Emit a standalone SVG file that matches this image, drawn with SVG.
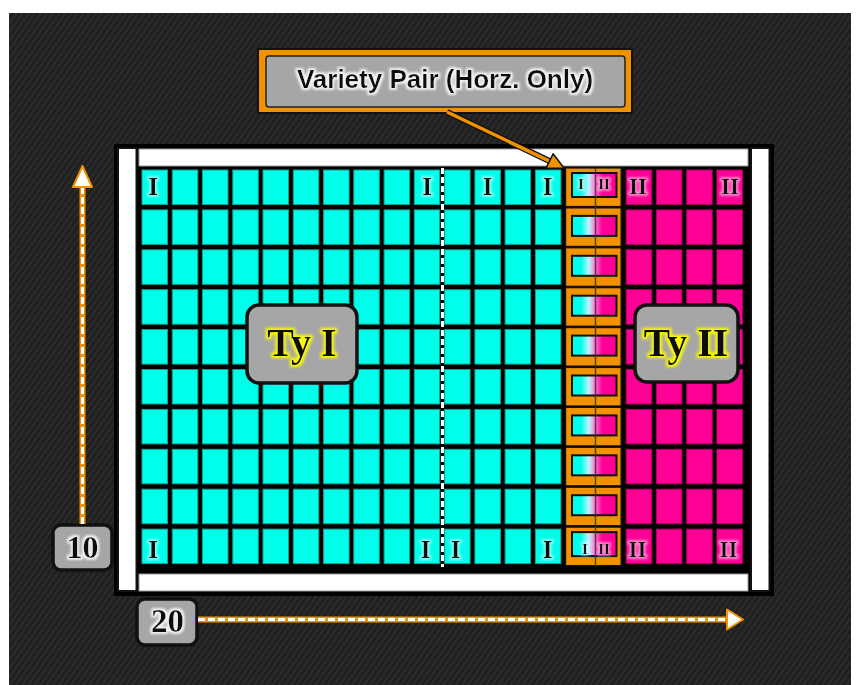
<svg xmlns="http://www.w3.org/2000/svg" width="859" height="685" viewBox="0 0 859 685">
<style>
.c{fill:#00ffea;stroke:#13a08e;stroke-width:1}
.m{fill:#ff0096;stroke:#b0005e;stroke-width:1}
.lab{font-family:"Liberation Serif","Times New Roman",serif;font-weight:bold;fill:#111;text-anchor:middle}
.box{fill:#a6a6a6;stroke:#111;stroke-width:3.5}
.wh{fill:#fff;stroke:#111;stroke-width:2}
.dash-o{stroke:#f39200;stroke-width:6;fill:none}
.dash-w{stroke:#fff;stroke-width:3;stroke-dasharray:7 3;fill:none}
</style>
<defs>
<pattern id="stripes" patternUnits="userSpaceOnUse" width="5" height="5" patternTransform="rotate(35)">
<rect width="5" height="5" fill="#1f1f1f"/>
<rect width="2.2" height="5" fill="#2b2b2b"/>
</pattern>
<linearGradient id="pg" x1="0" y1="0" x2="1" y2="0">
<stop offset="0" stop-color="#00ffea"/>
<stop offset="0.2" stop-color="#00ffea"/>
<stop offset="0.38" stop-color="#bff4ff"/>
<stop offset="0.5" stop-color="#ff80d8"/>
<stop offset="0.68" stop-color="#ff0096"/>
<stop offset="1" stop-color="#ff0096"/>
</linearGradient>
<filter id="gw" x="-40%" y="-40%" width="180%" height="180%">
<feMorphology in="SourceAlpha" operator="dilate" radius="1.5" result="d"/>
<feGaussianBlur in="d" stdDeviation="1.2" result="b"/>
<feFlood flood-color="#ffffff" flood-opacity="0.5"/>
<feComposite in2="b" operator="in" result="g"/>
<feMerge><feMergeNode in="g"/><feMergeNode in="SourceGraphic"/></feMerge>
</filter>
<filter id="gw2" x="-40%" y="-40%" width="180%" height="180%">
<feMorphology in="SourceAlpha" operator="dilate" radius="1.5" result="d"/>
<feGaussianBlur in="d" stdDeviation="1.2" result="b"/>
<feFlood flood-color="#ffffff" flood-opacity="0.85"/>
<feComposite in2="b" operator="in" result="g"/>
<feMerge><feMergeNode in="g"/><feMergeNode in="SourceGraphic"/></feMerge>
</filter>
<filter id="gy" x="-30%" y="-30%" width="160%" height="160%">
<feMorphology in="SourceAlpha" operator="dilate" radius="2" result="d"/>
<feGaussianBlur in="d" stdDeviation="1.8" result="b"/>
<feFlood flood-color="#ffff00" flood-opacity="1"/>
<feComposite in2="b" operator="in" result="g"/>
<feMerge><feMergeNode in="g"/><feMergeNode in="SourceGraphic"/></feMerge>
</filter>
<g id="cellrow">
<rect class="c" x="142" y="0" width="25.5" height="34.5"/>
<rect class="c" x="172.3" y="0" width="25.5" height="34.5"/>
<rect class="c" x="202.5" y="0" width="25.5" height="34.5"/>
<rect class="c" x="232.8" y="0" width="25.5" height="34.5"/>
<rect class="c" x="263" y="0" width="25.5" height="34.5"/>
<rect class="c" x="293.3" y="0" width="25.5" height="34.5"/>
<rect class="c" x="323.6" y="0" width="25.5" height="34.5"/>
<rect class="c" x="353.8" y="0" width="25.5" height="34.5"/>
<rect class="c" x="384.1" y="0" width="25.5" height="34.5"/>
<rect class="c" x="414.3" y="0" width="25.5" height="34.5"/>
<rect class="c" x="444.6" y="0" width="25.5" height="34.5"/>
<rect class="c" x="474.9" y="0" width="25.5" height="34.5"/>
<rect class="c" x="505.1" y="0" width="25.5" height="34.5"/>
<rect class="c" x="535.4" y="0" width="25.5" height="34.5"/>
<rect class="m" x="626.2" y="0" width="25.5" height="34.5"/>
<rect class="m" x="656.4" y="0" width="25.5" height="34.5"/>
<rect class="m" x="686.7" y="0" width="25.5" height="34.5"/>
<rect class="m" x="716.9" y="0" width="25.5" height="34.5"/>
</g>
<g id="pairmid">
<rect x="565.6" y="-2" width="55.5" height="38.5" fill="#f39200" stroke="#111" stroke-width="1.2"/>
<rect x="572" y="6" width="44.5" height="20" fill="url(#pg)" stroke="#111" stroke-width="2"/>
</g>
<g id="pairlab">
<rect x="565.6" y="-2" width="55.5" height="38.5" fill="#f39200" stroke="#111" stroke-width="1.2"/>
<rect x="572" y="3" width="44.5" height="24" fill="url(#pg)" stroke="#111" stroke-width="2"/>
</g>
</defs>

<rect x="9" y="13" width="842" height="672" fill="url(#stripes)"/>

<g id="field">
<rect x="114" y="144" width="660" height="452" fill="#000"/>
<rect class="wh" x="118" y="148" width="18.5" height="443"/>
<rect class="wh" x="751" y="148" width="18.5" height="443"/>
<rect x="139" y="149" width="609" height="17" fill="#fff" stroke="#999" stroke-width="1"/>
<rect x="139" y="574" width="609" height="17" fill="#fff" stroke="#999" stroke-width="1"/>
</g>

<g id="cells">
<use href="#cellrow" y="170"/>
<use href="#cellrow" y="209.9"/>
<use href="#cellrow" y="249.8"/>
<use href="#cellrow" y="289.7"/>
<use href="#cellrow" y="329.6"/>
<use href="#cellrow" y="369.5"/>
<use href="#cellrow" y="409.4"/>
<use href="#cellrow" y="449.3"/>
<use href="#cellrow" y="489.2"/>
<use href="#cellrow" y="529.1"/>
</g>

<g id="pairs">
<use href="#pairlab" y="170"/>
<use href="#pairmid" y="209.9"/>
<use href="#pairmid" y="249.8"/>
<use href="#pairmid" y="289.7"/>
<use href="#pairmid" y="329.6"/>
<use href="#pairmid" y="369.5"/>
<use href="#pairmid" y="409.4"/>
<use href="#pairmid" y="449.3"/>
<use href="#pairmid" y="489.2"/>
<use href="#pairlab" y="529.1"/>
<line x1="595.5" y1="168" x2="595.5" y2="567" stroke="#333" stroke-width="1.5" opacity="0.85"/>
</g>

<line x1="442.5" y1="168" x2="442.5" y2="567" stroke="#fff" stroke-width="3" stroke-dasharray="6 3"/>

<g id="cell-labels" filter="url(#gw)">
<text class="lab" x="153" y="195" font-size="25">I</text>
<text class="lab" x="427" y="195" font-size="25">I</text>
<text class="lab" x="487.5" y="195" font-size="25">I</text>
<text class="lab" x="547.5" y="195" font-size="25">I</text>
<text class="lab" x="581" y="189" font-size="15">I</text>
<text class="lab" x="604" y="189" font-size="15">II</text>
<text class="lab" x="638" y="194" font-size="23">II</text>
<text class="lab" x="730" y="194" font-size="23">II</text>
<text class="lab" x="153" y="558" font-size="25">I</text>
<text class="lab" x="425.5" y="558" font-size="25">I</text>
<text class="lab" x="455.5" y="558" font-size="25">I</text>
<text class="lab" x="547.5" y="558" font-size="25">I</text>
<text class="lab" x="585" y="554" font-size="15">I</text>
<text class="lab" x="604" y="554" font-size="15">II</text>
<text class="lab" x="637.5" y="557" font-size="23">II</text>
<text class="lab" x="728.5" y="557" font-size="23">II</text>
</g>

<g id="ty1">
<rect class="box" x="247" y="305" width="110" height="78" rx="12"/>
<text class="lab" x="302" y="356" font-size="40" filter="url(#gy)">Ty I</text>
</g>
<g id="ty2">
<rect class="box" x="635" y="305" width="103" height="77" rx="12"/>
<text class="lab" x="686" y="356" font-size="40" filter="url(#gy)">Ty II</text>
</g>

<g id="variety-label">
<rect x="258" y="49" width="374" height="64" fill="#f39200" stroke="#111" stroke-width="2"/>
<rect x="266" y="56" width="359" height="51" rx="3" fill="#a6a6a6" stroke="#222" stroke-width="1.5"/>
<text x="445" y="88" font-family="'Liberation Sans',Arial,sans-serif" font-weight="bold" font-size="26" text-anchor="middle" fill="#111" filter="url(#gw2)">Variety Pair (Horz. Only)</text>
</g>

<g id="count10">
<rect class="box" x="53" y="525" width="59" height="45" rx="8"/>
<text class="lab" x="82.5" y="558" font-size="32" filter="url(#gw2)">10</text>
</g>
<g id="count20">
<rect class="box" x="137" y="599" width="60" height="46" rx="8"/>
<text class="lab" x="167.5" y="632" font-size="33" filter="url(#gw2)">20</text>
</g>

<g id="connectors">
<line x1="447" y1="112" x2="550" y2="161.3" stroke="#111" stroke-width="6"/>
<line x1="447" y1="112" x2="550" y2="161.3" stroke="#f39200" stroke-width="3.5"/>
<polygon points="564,168 553.1,153.8 546.1,168.2" fill="#f39200" stroke="#111" stroke-width="1.5" stroke-linejoin="round"/>
<line class="dash-o" x1="82.5" y1="524" x2="82.5" y2="186"/>
<line class="dash-w" x1="82.5" y1="524" x2="82.5" y2="186"/>
<polygon points="82.5,166 73,187 92,187" fill="#fff" stroke="#f39200" stroke-width="2" stroke-linejoin="round"/>
<line class="dash-o" x1="198" y1="619.5" x2="728" y2="619.5"/>
<line class="dash-w" x1="198" y1="619.5" x2="728" y2="619.5"/>
<polygon points="743,619.5 727,609.5 727,629.5" fill="#fff" stroke="#f39200" stroke-width="2" stroke-linejoin="round"/>
</g>
</svg>
